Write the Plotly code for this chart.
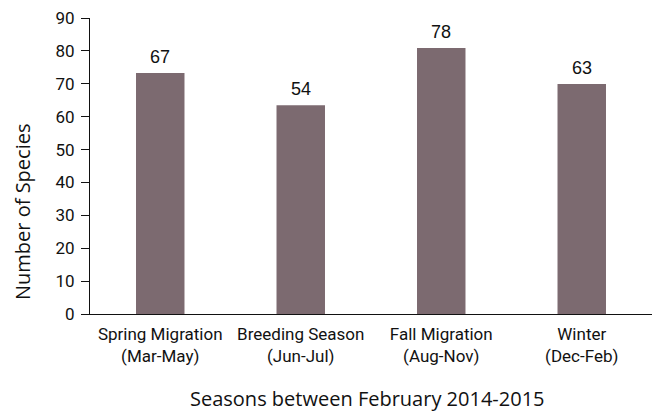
import plotly.graph_objects as go

categories = ["Spring Migration<br>(Mar-May)", "Breeding Season<br>(Jun-Jul)",
              "Fall Migration<br>(Aug-Nov)", "Winter<br>(Dec-Feb)"]
bar_heights = [73.3, 63.5, 80.9, 69.9]
label_values = ["67", "54", "78", "63"]
y_ticks = [0, 10, 20, 30, 40, 50, 60, 70, 80, 90]

BAR_COLOR = "#7c6a70"
NARROW = "Roboto"

fig = go.Figure()
fig.add_trace(go.Bar(x=categories, y=bar_heights, marker=dict(color=BAR_COLOR, line=dict(width=0)),
                     hoverinfo="skip"))

for c, h, t in zip(categories, bar_heights, label_values):
    fig.add_annotation(x=c, y=h, text=t, showarrow=False, yanchor="bottom", yshift=4,
                       font=dict(family="Liberation Sans, Arial, sans-serif", size=18, color="#111"))

fig.add_annotation(x=-0.119, y=0.345, xref="paper", yref="paper", text="Number of Species",
                   textangle=-90, showarrow=False, xanchor="center", yanchor="middle",
                   font=dict(family="Open Sans", size=20, color="#111"))
fig.add_annotation(x=0.493, y=-0.284, xref="paper", yref="paper",
                   text="Seasons between February 2014-2015", showarrow=False,
                   xanchor="center", yanchor="middle",
                   font=dict(family="Open Sans", size=20, color="#111"))

fig.update_layout(
    width=652, height=412,
    margin=dict(l=90, r=0, t=18, b=98),
    paper_bgcolor="white", plot_bgcolor="white",
    bargap=0.655, showlegend=False,
    xaxis=dict(showline=True, linecolor="#111", linewidth=1.2, ticks="", showgrid=False,
               automargin=False, tickangle=0, ticklabelstandoff=4,
               tickfont=dict(family=NARROW, size=17, color="#111"),
               range=[-0.5, 3.5]),
    yaxis=dict(range=[0, 90], tickvals=y_ticks, showline=True, linecolor="#111", linewidth=1.2,
               ticks="outside", ticklen=8, tickwidth=1.2, tickcolor="#111", showgrid=False,
               zeroline=False, automargin=False, ticklabelstandoff=3,
               tickfont=dict(family=NARROW, size=17, color="#111")),
)

fig.write_html("out.html")
